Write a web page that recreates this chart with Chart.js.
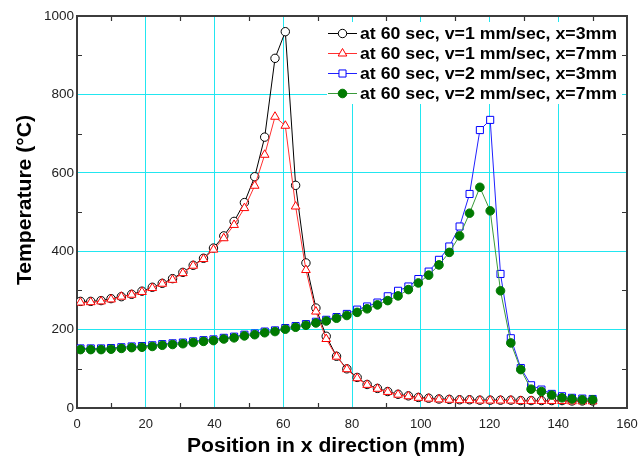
<!DOCTYPE html>
<html>
<head>
<meta charset="utf-8">
<script src="https://cdn.jsdelivr.net/npm/chart.js@4/dist/chart.umd.min.js"></script>
<style>
  html, body { margin: 0; padding: 0; background: #fff; }
  #wrap { width: 638px; height: 457px; }
</style>
</head>
<body>
<div id="wrap"><canvas id="temp_chart" width="638" height="457"></canvas></div>
<script>
// measurement positions along the weld line (mm)
var positions = [1.0, 4.0, 7.0, 9.9, 12.9, 15.9, 18.9, 21.9, 24.8, 27.8, 30.8, 33.8, 36.8, 39.7, 42.7, 45.7, 48.7,
    51.7, 54.6, 57.6, 60.6, 63.6, 66.6, 69.5, 72.5, 75.5, 78.5, 81.5, 84.4, 87.4, 90.4, 93.4, 96.4, 99.3,
    102.3, 105.3, 108.3, 111.3, 114.2, 117.2, 120.2, 123.2, 126.2, 129.1, 132.1, 135.1, 138.1, 141.1, 144.0, 147.0, 150.0];

var seriesNames = [
    "at 60 sec, v=1 mm/sec, x=3mm",
    "at 60 sec, v=1 mm/sec, x=7mm",
    "at 60 sec, v=2 mm/sec, x=3mm",
    "at 60 sec, v=2 mm/sec, x=7mm"
];

var v1x3 = [272, 272, 274, 279, 284, 290, 298, 308, 318, 330, 346, 364, 382, 408, 439, 476, 524, 590, 691, 892,
    960, 568, 370, 255, 183, 132, 100, 78, 60, 50, 42, 35, 31, 27, 25, 23, 22, 21, 21, 20,
    20, 20, 20, 19, 19, 19, 19, 19, 18, 18, 18];
var v1x7 = [269, 270, 272, 277, 284, 289, 296, 306, 317, 327, 344, 363, 380, 404, 433, 467, 510, 567, 646, 743,
    720, 514, 352, 246, 176, 131, 99, 76, 59, 49, 41, 34, 30, 26, 24, 22, 21, 20, 20, 19,
    19, 19, 19, 18, 18, 18, 18, 18, 17, 17, 17];
var v2x3 = [152, 152, 152, 153, 155, 157, 158, 160, 163, 165, 167, 170, 173, 175, 179, 182, 187, 190, 195, 198,
    204, 209, 214, 220, 225, 232, 240, 251, 259, 269, 285, 299, 310, 329, 348, 378, 412, 463, 546, 709,
    735, 342, 178, 102, 58, 47, 36, 30, 26, 24, 23];
var v2x7 = [149, 149, 149, 150, 152, 154, 155, 157, 160, 162, 164, 167, 170, 172, 176, 179, 184, 187, 192, 195,
    201, 206, 211, 217, 222, 229, 236, 244, 253, 263, 274, 286, 302, 319, 339, 365, 397, 439, 497, 563,
    503, 299, 166, 98, 48, 42, 33, 26, 23, 21, 21];

var xTicks = [0, 20, 40, 60, 80, 100, 120, 140, 160];
var yTicks = [0, 200, 400, 600, 800, 1000];

var xTitle = 'Position in x direction (mm)';
var yTitle = 'Temperature (\u00B0C)';

var FONT = "'Liberation Sans', Arial, Helvetica, sans-serif";

function pts(vals) {
    return positions.map(function(x, i) { return { x: x, y: vals[i] }; });
}

var styles = [
    { line: '#000000', stroke: '#000000', fill: '#ffffff', shape: 'circle', r: 4.2 },
    { line: '#ff3030', stroke: '#ff0000', fill: '#ffffff', shape: 'triangle', r: 5 },
    { line: '#2020ff', stroke: '#0000ff', fill: '#ffffff', shape: 'rect', r: 5 },
    { line: '#3a9a3a', stroke: '#007a00', fill: '#007a00', shape: 'circle', r: 4.3 }
];

var allVals = [v1x3, v1x7, v2x3, v2x7];

// draw a marker by hand for the legend
function marker(ctx, s, x, y) {
    ctx.save();
    ctx.lineWidth = 1;
    ctx.strokeStyle = s.stroke;
    ctx.fillStyle = s.fill;
    ctx.beginPath();
    if (s.shape === 'circle') {
        ctx.arc(x, y, s.r, 0, Math.PI * 2);
    } else if (s.shape === 'triangle') {
        var h = s.r;
        ctx.moveTo(x, y - h);
        ctx.lineTo(x + h * 0.866, y + h * 0.5);
        ctx.lineTo(x - h * 0.866, y + h * 0.5);
        ctx.closePath();
    } else {
        var a = s.r * Math.SQRT1_2;
        ctx.rect(x - a, y - a, 2 * a, 2 * a);
    }
    ctx.fill();
    ctx.stroke();
    ctx.restore();
}

// text squeezed/stretched to a given width (the original uses a wide Helvetica)
function wideText(ctx, txt, x, y, width) {
    var w = ctx.measureText(txt).width;
    ctx.save();
    ctx.translate(x, y);
    ctx.scale(width / w, 1);
    ctx.fillText(txt, 0, 0);
    ctx.restore();
}

var framePlugin = {
    id: 'frame',
    beforeDatasetsDraw: function(chart) {
        var ctx = chart.ctx, a = chart.chartArea;
        var xs = chart.scales.x, ys = chart.scales.y;
        ctx.save();
        ctx.strokeStyle = '#333';
        ctx.lineWidth = 1.2;
        ctx.beginPath();
        for (var v = 10; v < 160; v += 20) {
            var px = Math.round(xs.getPixelForValue(v)) + 0.5;
            ctx.moveTo(px, a.bottom); ctx.lineTo(px, a.bottom - 5);
            ctx.moveTo(px, a.top); ctx.lineTo(px, a.top + 5);
        }
        for (var w = 100; w < 1000; w += 200) {
            var py = Math.round(ys.getPixelForValue(w)) + 0.5;
            ctx.moveTo(a.left, py); ctx.lineTo(a.left + 5, py);
            ctx.moveTo(a.right, py); ctx.lineTo(a.right - 5, py);
        }
        ctx.stroke();
        ctx.lineWidth = 2;
        ctx.strokeStyle = '#3c3c3c';
        ctx.strokeRect(a.left, a.top, a.right - a.left, a.bottom - a.top);
        ctx.restore();
    },
    afterDraw: function(chart) {
        var ctx = chart.ctx;
        ctx.save();
        // axis titles
        ctx.fillStyle = '#000';
        ctx.font = 'bold 19.5px ' + FONT;
        ctx.textBaseline = 'alphabetic';
        ctx.textAlign = 'left';
        wideText(ctx, xTitle, 187, 452, 278);
        ctx.save();
        ctx.translate(31, 285);
        ctx.rotate(-Math.PI / 2);
        wideText(ctx, yTitle, 0, 0, 170);
        ctx.restore();

        // legend box
        ctx.fillStyle = '#fff';
        ctx.fillRect(327, 22, 295, 82);
        ctx.font = 'bold 16.5px ' + FONT;
        var k = 257 / ctx.measureText(seriesNames[0]).width;
        for (var i = 0; i < seriesNames.length; i++) {
            var y = 33.5 + i * 20;
            ctx.strokeStyle = styles[i].line;
            ctx.lineWidth = 1;
            ctx.beginPath();
            ctx.moveTo(328, y); ctx.lineTo(357, y);
            ctx.stroke();
            marker(ctx, styles[i], 342.5, y);
            ctx.fillStyle = '#000';
            wideText(ctx, seriesNames[i], 360, 38.5 + i * 20, ctx.measureText(seriesNames[i]).width * k);
        }
        ctx.restore();
    }
};

var datasets = allVals.map(function(vals, i) {
    var s = styles[i];
    return {
        label: seriesNames[i],
        data: pts(vals),
        showLine: true,
        borderColor: s.line,
        borderWidth: 1,
        pointStyle: s.shape,
        pointRadius: s.r,
        pointBorderWidth: 1,
        pointBorderColor: s.stroke,
        pointBackgroundColor: s.fill,
        order: 3 - i
    };
});

var config = {
    type: 'scatter',
    data: { datasets: datasets },
    options: {
        responsive: false,
        animation: false,
        layout: { padding: { top: 16, right: 11, left: 0, bottom: 0 } },
        plugins: {
            legend: { display: false },
            tooltip: { enabled: false }
        },
        scales: {
            x: {
                type: 'linear',
                min: 0, max: 160,
                afterBuildTicks: function(s) { s.ticks = xTicks.map(function(v) { return { value: v }; }); },
                afterFit: function(s) { s.height = 49; s.paddingLeft = 0; s.paddingRight = 0; },
                grid: { color: '#22e6f0', lineWidth: 1, drawTicks: false },
                border: { display: false },
                ticks: {
                    color: '#222', padding: 9, font: { size: 13, family: FONT },
                    callback: function(v) { return String(v); }
                }
            },
            y: {
                type: 'linear',
                min: 0, max: 1000,
                afterBuildTicks: function(s) { s.ticks = yTicks.map(function(v) { return { value: v }; }); },
                afterFit: function(s) { s.width = 77; s.paddingTop = 0; s.paddingBottom = 0; },
                grid: { color: '#22e6f0', lineWidth: 1, drawTicks: false },
                border: { display: false },
                ticks: {
                    color: '#222', padding: 3, font: { size: 13.5, family: FONT },
                    callback: function(v) { return String(v); }
                }
            }
        }
    },
    plugins: [framePlugin]
};

new Chart(document.getElementById('temp_chart').getContext('2d'), config);
</script>
</body>
</html>
